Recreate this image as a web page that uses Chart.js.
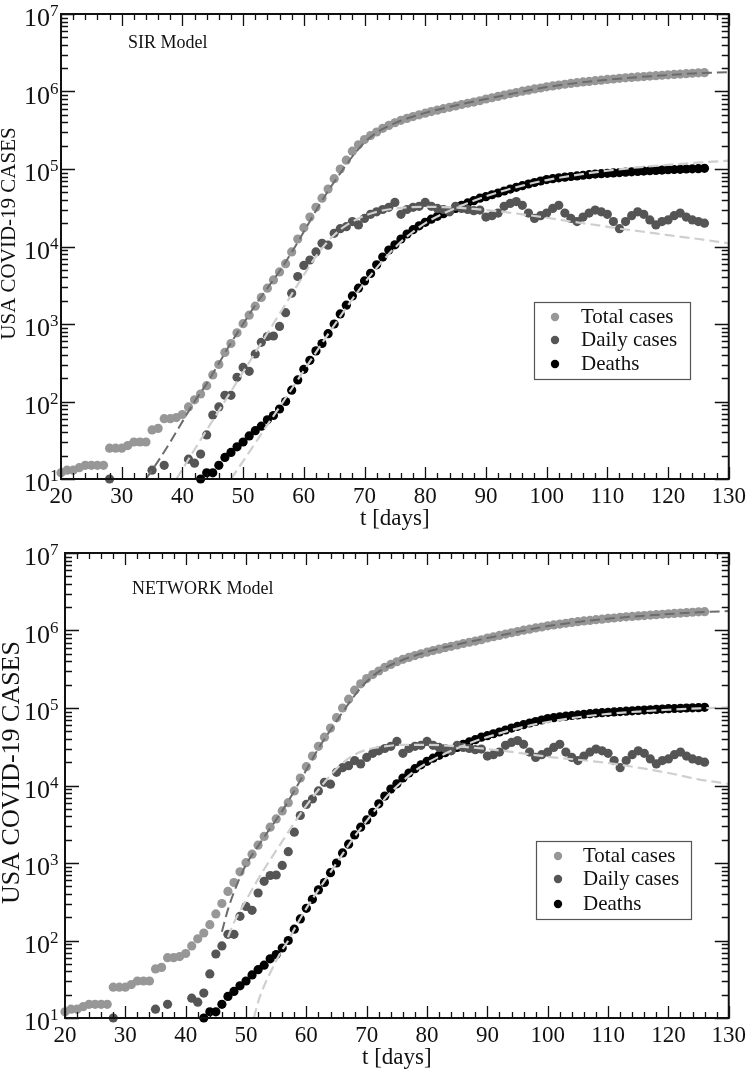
<!DOCTYPE html>
<html><head><meta charset="utf-8">
<script src="https://cdn.jsdelivr.net/npm/chart.js@4.4.1/dist/chart.umd.min.js"></script>
<style>
html,body{margin:0;padding:0;background:#fff;}
#top{position:absolute;left:0;top:0;width:750px;height:530px;}
#bot{position:absolute;left:0;top:530px;width:750px;height:542px;}
</style></head><body>
<div id="top"><canvas id="c1"></canvas></div>
<div id="bot"><canvas id="c2"></canvas></div>
<script>
// ---------- observed data (t in days) ----------
const days = [20,21,22,23,24,25,26,27,28,29,30,31,32,33,34,35,36,37,38,39,40,41,42,43,44,45,46,47,48,49,50,51,52,53,54,55,56,57,58,59,60,61,62,63,64,65,66,67,68,69,70,71,72,73,74,75,76,77,78,79,80,81,82,83,84,85,86,87,88,89,90,91,92,93,94,95,96,97,98,99,100,101,102,103,104,105,106,107,108,109,110,111,112,113,114,115,116,117,118,119,120,121,122,123,124,125,126];
const totalCases = [12,13,13,14,15,15,15,15,25,25,25,27,30,30,30,43,45,60,60,62,68,85,105,125,160,220,300,430,560,770,1010,1300,1700,2200,2900,3700,4700,6000,8500,12500,17500,24000,32000,42000,55000,75000,100000,130000,170000,205000,240000,270000,300000,335000,365000,395000,425000,450000,475000,500000,525000,550000,575000,600000,625000,650000,680000,705000,730000,760000,800000,830000,865000,900000,935000,970000,1010000,1040000,1080000,1110000,1150000,1180000,1210000,1240000,1270000,1300000,1330000,1350000,1380000,1400000,1430000,1450000,1480000,1500000,1520000,1540000,1560000,1580000,1600000,1620000,1640000,1660000,1680000,1700000,1720000,1740000,1750000];
const dailyCases = [null,null,null,null,null,null,null,null,10,null,null,null,null,null,null,13,null,15,null,null,null,18,16,21,37,67,85,120,120,205,275,245,410,580,690,700,930,1400,2500,4100,5700,6700,8500,11000,10400,14800,17000,18000,21000,19000,23000,26000,28000,30000,32000,37000,26000,30000,32000,33000,37000,33000,31000,30000,28000,33000,31000,30000,29000,29500,24000,25000,27000,33000,36000,38000,34000,27000,23000,25000,27000,31000,34000,27000,23000,21000,24000,27000,29500,28000,26000,21000,17000,21000,25000,28000,26000,22000,19000,21000,22000,25000,27000,24000,22000,21000,20000];
const deaths = [null,null,null,null,null,null,null,null,null,null,null,null,null,null,null,null,null,null,null,null,null,null,null,10,12,12,15,19,22,26,30,36,42,48,58,66,80,100,140,190,260,340,450,560,750,1000,1350,1750,2300,2900,3600,4500,5800,7300,9000,10500,12500,14500,16500,18500,20500,22500,24500,26500,28500,31000,34000,36500,39000,42000,44000,46500,49000,52000,55000,58000,61000,64000,67000,70000,73000,75000,77000,78500,80000,81500,83000,84500,86000,87000,88000,89000,90000,91000,92000,93000,94000,95000,96000,97000,98000,98500,99000,100000,100500,101000,102000];

// ---------- model fits ----------
const sirTotalFitT = [34,36,38,40,42,44,46,48,50,52,54,56,58,60,62,64,66,68,70,72,75,80,85,90,95,100,105,110,115,120,125,130];
const sirTotalFit  = [10,17,30,55,100,170,310,570,1000,1750,2900,4800,8400,15500,29000,52000,88000,145000,220000,295000,390000,530000,660000,800000,960000,1140000,1290000,1420000,1530000,1630000,1720000,1780000];
const sirDailyFitT = [39,42,45,48,51,54,57,60,63,66,69,72,76,80,84,88,92,96,100,104,108,112,116,120,125,130];
const sirDailyFit  = [10,24,57,135,320,760,1800,4300,9500,16500,23000,28000,31500,32500,32000,30500,28500,26000,23500,21000,19000,17000,15500,14000,12500,11000];
const sirDeathFitT = [48,50,52,54,56,58,60,62,64,66,68,70,72,74,76,78,80,84,88,92,96,100,105,110,115,120,125,130];
const sirDeathFit  = [10,17,29,50,85,145,250,430,740,1250,2100,3400,5300,8000,11500,15500,20000,29000,39000,50000,61000,72000,84000,95000,105000,113000,121000,128000];

const netTotalFitT = [46,47,48,49,50,52,54,56,58,60,62,64,66,68,70,72,75,80,85,90,95,100,105,110,115,120,125,130];
const netTotalFit  = [130,250,420,650,950,1650,2800,4700,8500,16000,30000,52000,88000,145000,220000,295000,390000,530000,660000,800000,960000,1140000,1290000,1420000,1530000,1630000,1720000,1780000];
const netDailyFitT = [47,48,50,52,54,56,58,60,62,64,66,68,70,73,76,80,85,90,95,100,105,110,115,120,125,130];
const netDailyFit  = [110,170,330,620,1100,1900,3300,5500,8800,13500,19500,25000,29000,32000,33500,33500,32000,29500,26500,23500,21500,19500,17000,14500,12000,10500];
const netDeathFitT = [51.3,52,53,54,55,56,57,58,60,62,64,66,68,70,72,74,76,78,80,84,88,92,96,100,105,110,115,120,125,130];
const netDeathFit  = [10,16,26,38,55,76,100,140,260,450,760,1300,2200,3500,5500,8200,11500,15500,19500,28000,37500,47000,57000,66000,76000,84000,90000,95000,99000,102000];

const seriesLabels = ['Total cases','Daily cases','Deaths'];
const yPowers = [1e1,1e2,1e3,1e4,1e5,1e6,1e7];
const yTitleText = 'USA COVID-19 CASES';
const xTitleText = 't [days]';

const C_TOTAL = '#979797', C_DAILY = '#555555', C_DEATH = '#000000';
const C_FITDARK = '#6c6c6c', C_FITLIGHT = '#cfcfcf';
const SERIF = "'Liberation Serif','Times New Roman',serif";

function pts(xs, ys){ const out=[]; xs.forEach((x,i)=>{ if(ys[i]!==null) out.push({x:x,y:ys[i]}); }); return out; }

function pointSet(label, arr, color){
  return {label, data: pts(days, arr), showLine:false, pointRadius:4.6, pointHoverRadius:4.6,
    pointBackgroundColor:color, pointBorderWidth:0, borderColor:color, backgroundColor:color, clip:false, order:5, isLegend:true};
}
function fitSet(xs, ys, color, dash, width){
  return {label:'', data: pts(xs, ys), showLine:true, pointRadius:0, borderColor:color, borderWidth:width||2,
    borderDash:dash, cubicInterpolationMode:'monotone', order:1, isLegend:false};
}

const framePlugin = {
  id:'frame',
  afterDraw(chart, args, opts){
    const {ctx, chartArea:a} = chart; const xs=chart.scales.x, ys=chart.scales.y;
    ctx.save();
    ctx.strokeStyle='#111'; ctx.lineWidth=1.3;
    ctx.beginPath();
    for(let v=20; v<=130; v+=2){
      const px=Math.round(xs.getPixelForValue(v))+0.5; const len=(v%10===0)?12:6;
      ctx.moveTo(px,a.bottom); ctx.lineTo(px,a.bottom-len);
      ctx.moveTo(px,a.top); ctx.lineTo(px,a.top+len);
    }
    for(let k=1;k<=7;k++){
      for(let m=1;m<=9;m++){
        if(k===7 && m>1) break;
        const py=Math.round(ys.getPixelForValue(m*Math.pow(10,k)))+0.5; const len=(m===1)?14:7;
        ctx.moveTo(a.left,py); ctx.lineTo(a.left+len,py);
        ctx.moveTo(a.right,py); ctx.lineTo(a.right-len,py);
      }
    }
    ctx.stroke();
    ctx.lineWidth=2; ctx.strokeStyle='#111';
    ctx.strokeRect(a.left,a.top,a.right-a.left,a.bottom-a.top);

    // y tick labels: 10 with superscript exponent, placed via the log scale
    ctx.fillStyle='#111'; ctx.textBaseline='alphabetic';
    yPowers.forEach(v=>{
      const py = ys.getPixelForValue(v);
      const e = String(Math.round(Math.log10(v)));
      ctx.font='26px '+SERIF; ctx.textAlign='right';
      ctx.fillText('10', opts.yLabX, py+12);
      ctx.font='17px '+SERIF; ctx.textAlign='left';
      ctx.fillText(e, opts.yLabX, py+2);
    });
    // y axis title
    ctx.save();
    ctx.translate(opts.yTitleX, (a.top+a.bottom)/2 - opts.yTitleShift);
    ctx.rotate(-Math.PI/2);
    ctx.font=opts.yTitleSize+'px '+SERIF; ctx.textAlign='center'; ctx.textBaseline='middle';
    ctx.fillText(yTitleText, 0, 0);
    ctx.restore();

    // model label
    ctx.fillStyle='#111'; ctx.font='18px '+SERIF; ctx.textBaseline='middle'; ctx.textAlign='left';
    ctx.fillText(opts.modelText, opts.modelX, opts.modelY);
    // legend
    const L=opts.legend;
    ctx.fillStyle='#fff'; ctx.fillRect(L.x,L.y,L.w,L.h);
    ctx.strokeStyle='#555'; ctx.lineWidth=1.2; ctx.strokeRect(L.x+0.5,L.y+0.5,L.w,L.h);
    ctx.font='21px '+SERIF; ctx.textBaseline='middle';
    const items = chart.data.datasets.filter(d=>d.isLegend);
    items.forEach((d,i)=>{
      const cy=L.rowY[i];
      ctx.fillStyle=d.pointBackgroundColor; ctx.beginPath(); ctx.arc(L.dotX,cy,4.2,0,Math.PI*2); ctx.fill();
      ctx.fillStyle='#111'; ctx.fillText(d.label,L.textX,cy);
    });
    ctx.restore();
  }
};

function makeChart(id, fits, cfg){
  const datasets = [
    pointSet(seriesLabels[0], totalCases, C_TOTAL),
    pointSet(seriesLabels[1], dailyCases, C_DAILY),
    pointSet(seriesLabels[2], deaths, C_DEATH),
    fitSet(fits[0][0], fits[0][1], C_FITDARK, [10,5], 2),
    fitSet(fits[1][0], fits[1][1], C_FITLIGHT, [10,5], 2.2),
    fitSet(fits[2][0], fits[2][1], C_FITLIGHT, [10,5], 2.2)
  ];
  return new Chart(document.getElementById(id), {
    type:'scatter',
    data:{datasets},
    plugins:[framePlugin],
    options:{
      responsive:true, maintainAspectRatio:false, animation:false, devicePixelRatio:1,
      layout:{padding:{top:cfg.padTop, right:cfg.padRight, left:0, bottom:0}},
      plugins:{legend:{display:false}, tooltip:{enabled:false},
        frame:{modelText:cfg.modelText, modelX:cfg.modelX, modelY:cfg.modelY, legend:cfg.legend,
               yLabX:50, yTitleX:cfg.yTitleX, yTitleSize:cfg.yTitleSize, yTitleShift:13}},
      scales:{
        x:{type:'linear', min:20, max:130,
          grid:{display:false, drawTicks:false}, border:{display:false},
          ticks:{stepSize:10, padding:cfg.xPad, color:'#111', font:{family:SERIF, size:23}, maxRotation:0},
          title:{display:true, text:xTitleText, color:'#111', font:{family:SERIF, size:23, lineHeight:1}, padding:{top:0,bottom:cfg.xTitlePad}},
          afterFit:(s)=>{ s.height=cfg.xH; }
        },
        y:{type:'logarithmic', min:10, max:1e7,
          grid:{display:false, drawTicks:false}, border:{display:false},
          ticks:{display:false},
          afterFit:(s)=>{ s.width=cfg.yW; }
        }
      }
    }
  });
}

makeChart('c1', [[sirTotalFitT,sirTotalFit],[sirDailyFitT,sirDailyFit],[sirDeathFitT,sirDeathFit]], {
  padTop:14, padRight:20, xH:51, yW:61, xPad:4, xTitlePad:0, yTitleSize:21, yTitleX:9,
  modelText:'SIR Model', modelX:128, modelY:43,
  legend:{x:534, y:302, w:156, h:77, dotX:555, textX:581, rowY:[317,340,364]}
});
makeChart('c2', [[netTotalFitT,netTotalFit],[netDailyFitT,netDailyFit],[netDeathFitT,netDeathFit]], {
  padTop:23, padRight:21, xH:54, yW:65, xPad:4, xTitlePad:3, yTitleSize:26, yTitleX:12,
  modelText:'NETWORK Model', modelX:132, modelY:59,
  legend:{x:536, y:311, w:155, h:78, dotX:558, textX:583, rowY:[326,349,374]}
});
</script>
</body></html>
